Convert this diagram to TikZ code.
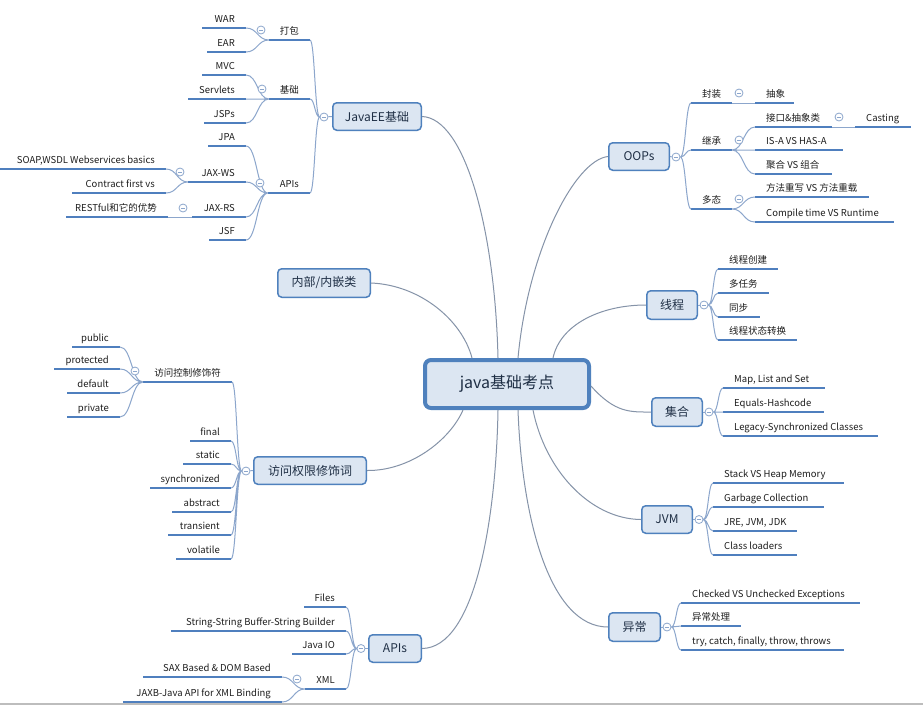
\documentclass[tikz,border=0pt]{standalone}
\usepackage{fontspec}
\setmainfont{Noto Sans CJK SC}
\usetikzlibrary{calc}
\definecolor{uln}{HTML}{4F7FBE}
\definecolor{cnl}{HTML}{8CA6CC}
\definecolor{mainl}{HTML}{8593A8}
\definecolor{boxf}{HTML}{DCE6F2}
\definecolor{boxd}{HTML}{4F81BD}
\definecolor{txt}{HTML}{1E1E1E}
\definecolor{btxt}{HTML}{1F2F45}
\definecolor{sepl}{HTML}{BDBDBD}
\tikzset{
 uline/.style={draw=uln, line width=2pt},
 conn/.style={draw=cnl, line width=1pt},
 mainconn/.style={draw=mainl, line width=1pt},
 leaf/.style={inner sep=0pt, font=\fontsize{9.5}{11}\selectfont, text=txt},
 topic/.style={draw=boxd, fill=boxf, line width=1.5pt, rounded corners=4pt, font=\fontsize{12}{14}\selectfont, text=btxt, inner sep=0pt},
 central/.style={draw=boxd, fill=boxf, line width=4pt, rounded corners=6pt, font=\fontsize{16}{18}\selectfont, text=btxt, inner sep=0pt, minimum width=164pt, minimum height=48pt},
 collapse/.style={circle, draw=cnl, fill=white, line width=0.8pt, minimum size=8pt, inner sep=0pt,
   path picture={\draw[cnl, line width=0.8pt] ([xshift=-2.2pt]path picture bounding box.center) -- ([xshift=2.2pt]path picture bounding box.center);}},
 brace/.style={to path={let \p1=(\tikztostart), \p2=(\tikztotarget) in .. controls ({0.5*\x1+0.5*\x2},\y1) and ({0.5*\x1+0.5*\x2},\y2) .. (\tikztotarget)}},
}
% right-side leaf: name, x-start, x-end, y of underline, text
\newcommand\LR[5]{\coordinate (#1-l) at (#2,#4); \coordinate (#1-r) at (#3,#4);
  \node[leaf,anchor=base west] (#1) at (#2+11,#4-6) {#5};
  \draw[uline] (#1-l) -- (#1-r);}
% left-side leaf
\newcommand\LL[5]{\coordinate (#1-l) at (#2,#4); \coordinate (#1-r) at (#3,#4);
  \node[leaf,anchor=base east] (#1) at (#3-11,#4-6) {#5};
  \draw[uline] (#1-l) -- (#1-r);}
\begin{document}
\begin{tikzpicture}[x=1pt,y=-1pt]
\useasboundingbox (0,0) rectangle (923,713);
\fill[white] (0,0) rectangle (923,713);

% ---------- main topics ----------
\node[central] (ctr) at (507,384) {java基础考点};
\node[topic, minimum width=88.5pt, minimum height=27.5pt] (je) at (377,116.5) {JavaEE基础};
\node[topic, minimum width=60.5pt, minimum height=27.5pt] (oop) at (639,156.5) {OOPs};
\node[topic, minimum width=50.5pt, minimum height=28.5pt] (xc) at (672,305) {线程};
\node[topic, minimum width=50.5pt, minimum height=28.5pt] (jh) at (677,412) {集合};
\node[topic, minimum width=50.5pt, minimum height=27.5pt] (jvm) at (667,519.5) {JVM};
\node[topic, minimum width=51.5pt, minimum height=28.5pt] (yc) at (634.5,627) {异常};
\node[topic, minimum width=92.5pt, minimum height=28.5pt] (nb) at (324,283) {内部/内嵌类};
\node[topic, minimum width=112.5pt, minimum height=27.5pt] (fw) at (310,470.5) {访问权限修饰词};
\node[topic, minimum width=52.5pt, minimum height=27.5pt] (api) at (395,648.5) {APIs};

% ---------- main connectors ----------
\draw[mainconn] (nb.east) .. controls (420,285) and (462,320) .. ([xshift=-35pt]ctr.north);
\draw[mainconn] (je.east) .. controls (465,118) and (495,230) .. ([xshift=-9pt]ctr.north);
\draw[mainconn] (oop.west) .. controls (575,160) and (528,250) .. ([xshift=11pt]ctr.north);
\draw[mainconn] (xc.west) .. controls (600,305) and (560,325) .. ([xshift=46pt]ctr.north);
\draw[mainconn] ([yshift=-2pt]ctr.east) .. controls (615,413) and (630,412) .. (jh.west);
\draw[mainconn] ([xshift=26pt]ctr.south) .. controls (545,470) and (590,519) .. (jvm.west);
\draw[mainconn] ([xshift=11pt]ctr.south) .. controls (522,520) and (550,627) .. (yc.west);
\draw[mainconn] ([xshift=-9pt]ctr.south) .. controls (496,520) and (475,648) .. (api.east);
\draw[mainconn] ([xshift=-44pt]ctr.south) .. controls (450,440) and (410,471) .. (fw.east);

% ---------- JavaEE ----------
\LL{pk}{269}{310}{40}{打包}
\LL{jcb}{269}{310}{99}{基础}
\LL{jea}{268}{310}{193}{APIs}
\LL{war}{202}{246}{28}{WAR}
\LL{ear}{207}{246}{52}{EAR}
\LL{mvc}{202}{246}{75}{MVC}
\LL{svl}{188}{246}{99}{Servlets}
\LL{jsp}{204}{246}{123}{JSPs}
\LL{jpa}{208}{246}{146}{JPA}
\LL{jws}{188}{246}{182}{JAX-WS}
\LL{jrs}{192}{246}{217}{JAX-RS}
\LL{jsf}{209}{246}{240}{JSF}
\LL{soap}{0}{166}{169}{SOAP,WSDL Webservices basics}
\LL{cfv}{72}{166}{193}{Contract first vs}
\LL{rest}{66}{168}{217}{RESTful和它的优势}
\node[collapse] (jec) at (324,117) {};
\draw[conn] (je.west) -- (jec);
\draw[conn] (jec.west) to[brace] (pk-r) (jec.west) to[brace] (jcb-r) (jec.west) to[brace] (jea-r);
\draw[conn] (pk-l) to[brace] (war-r) (pk-l) to[brace] (ear-r);
\draw[conn] (jcb-l) to[brace] (mvc-r) (jcb-l) to[brace] (svl-r) (jcb-l) to[brace] (jsp-r);
\draw[conn] (jea-l) to[brace] (jpa-r) (jea-l) to[brace] (jws-r) (jea-l) to[brace] (jrs-r) (jea-l) to[brace] (jsf-r);
\draw[conn] (jws-l) to[brace] (soap-r) (jws-l) to[brace] (cfv-r);
\draw[conn] (jrs-l) -- (rest-r);
\node[collapse] (pkc) at (261,30) {};
\node[collapse] (jcbc) at (262,89) {};
\node[collapse] (jeac) at (260,183) {};
\node[collapse] (jwsc) at (180,172) {};
\node[collapse] (jrsc) at (183,208) {};

% ---------- OOPs ----------
\LR{fz}{691}{732}{103}{封装}
\LR{cx}{755}{794}{103}{抽象}
\LR{ji}{691}{732}{150}{继承}
\LR{jk}{755}{832}{127}{接口\&抽象类}
\LR{cast}{855}{911}{127}{Casting}
\LR{isa}{755}{843}{150}{IS-A VS HAS-A}
\LR{jz}{755}{832}{174}{聚合 VS 组合}
\LR{dt}{691}{732}{209}{多态}
\LR{ff}{755}{869}{197}{方法重写 VS 方法重载}
\LR{ct}{755}{894}{222}{Compile time VS Runtime}
\node[collapse] (oopc) at (676,157) {};
\draw[conn] (oop.east) -- (oopc);
\draw[conn] (oopc.east) to[brace] (fz-l) (oopc.east) to[brace] (ji-l) (oopc.east) to[brace] (dt-l);
\draw[conn] (fz-r) -- (cx-l);
\draw[conn] (ji-r) to[brace] (jk-l) (ji-r) to[brace] (isa-l) (ji-r) to[brace] (jz-l);
\draw[conn] (jk-r) -- (cast-l);
\draw[conn] (dt-r) to[brace] (ff-l) (dt-r) to[brace] (ct-l);
\node[collapse] (fzc) at (739,93) {};
\node[collapse] (jic) at (739,140) {};
\node[collapse] (jkc) at (839,117) {};
\node[collapse] (dtc) at (739,199) {};

% ---------- 线程 ----------
\LR{t1}{718}{778}{269}{线程创建}
\LR{t2}{718}{769}{293}{多任务}
\LR{t3}{718}{760}{317}{同步}
\LR{t4}{718}{797}{340}{线程状态转换}
\node[collapse] (xcc) at (704,305) {};
\draw[conn] (xc.east) -- (xcc);
\draw[conn] (xcc.east) to[brace] (t1-l) (xcc.east) to[brace] (t2-l) (xcc.east) to[brace] (t3-l) (xcc.east) to[brace] (t4-l);

% ---------- 集合 ----------
\LR{m1}{723}{825}{388}{Map, List and Set}
\LR{m2}{723}{824}{412}{Equals-Hashcode}
\LR{m3}{723}{878}{436}{Legacy-Synchronized Classes}
\node[collapse] (jhc) at (709,412) {};
\draw[conn] (jh.east) -- (jhc);
\draw[conn] (jhc.east) to[brace] (m1-l) (jhc.east) to[brace] (m2-l) (jhc.east) to[brace] (m3-l);

% ---------- JVM ----------
\LR{v1}{713}{844}{483}{Stack VS Heap Memory}
\LR{v2}{713}{824}{507}{Garbage Collection}
\LR{v3}{713}{797}{531}{JRE, JVM, JDK}
\LR{v4}{713}{797}{555}{Class loaders}
\node[collapse] (jvmc) at (699,519.5) {};
\draw[conn] (jvm.east) -- (jvmc);
\draw[conn] (jvmc.east) to[brace] (v1-l) (jvmc.east) to[brace] (v2-l) (jvmc.east) to[brace] (v3-l) (jvmc.east) to[brace] (v4-l);

% ---------- 异常 ----------
\LR{e1}{681}{860}{603}{Checked VS Unchecked Exceptions}
\LR{e2}{681}{741}{626}{异常处理}
\LR{e3}{681}{844}{650}{try, catch, finally, throw, throws}
\node[collapse] (ycc) at (667,627) {};
\draw[conn] (yc.east) -- (ycc);
\draw[conn] (ycc.east) to[brace] (e1-l) (ycc.east) to[brace] (e2-l) (ycc.east) to[brace] (e3-l);

% ---------- 访问权限修饰词 ----------
\LL{kz}{143}{232}{382}{访问控制修饰符}
\LL{pub}{72}{120}{347}{public}
\LL{pro}{54}{120}{369}{protected}
\LL{dfl}{67}{120}{393}{default}
\LL{pri}{67}{120}{417}{private}
\LL{fin}{190}{231}{441}{final}
\LL{sta}{183}{231}{464}{static}
\LL{syn}{150}{231}{488}{synchronized}
\LL{abs}{172}{231}{512}{abstract}
\LL{tra}{168}{231}{535}{transient}
\LL{vol}{176}{231}{559}{volatile}
\node[collapse] (fwc) at (246,471) {};
\draw[conn] (fw.west) -- (fwc);
\draw[conn] (fwc.west) to[brace] (kz-r) (fwc.west) to[brace] (fin-r) (fwc.west) to[brace] (sta-r)
  (fwc.west) to[brace] (syn-r) (fwc.west) to[brace] (abs-r) (fwc.west) to[brace] (tra-r) (fwc.west) to[brace] (vol-r);
\draw[conn] (kz-l) to[brace] (pub-r) (kz-l) to[brace] (pro-r) (kz-l) to[brace] (dfl-r) (kz-l) to[brace] (pri-r);
\node[collapse] (kzc) at (135,371) {};

% ---------- APIs ----------
\LL{fil}{304}{346}{607}{Files}
\LL{ssb}{171}{346}{631}{String-String Buffer-String Builder}
\LL{jio}{292}{346}{654}{Java IO}
\LL{xml}{305}{346}{689}{XML}
\LL{sax}{143}{282}{677}{SAX Based \& DOM Based}
\LL{jaxb}{123}{282}{702}{JAXB-Java API for XML Binding}
\node[collapse] (apic) at (361,648.5) {};
\draw[conn] (api.west) -- (apic);
\draw[conn] (apic.west) to[brace] (fil-r) (apic.west) to[brace] (ssb-r) (apic.west) to[brace] (jio-r) (apic.west) to[brace] (xml-r);
\draw[conn] (xml-l) to[brace] (sax-r) (xml-l) to[brace] (jaxb-r);
\node[collapse] (xmlc) at (297,679) {};

% bottom separator
\draw[sepl, line width=1.5pt] (0,704) -- (923,704);
\end{tikzpicture}
\end{document}
